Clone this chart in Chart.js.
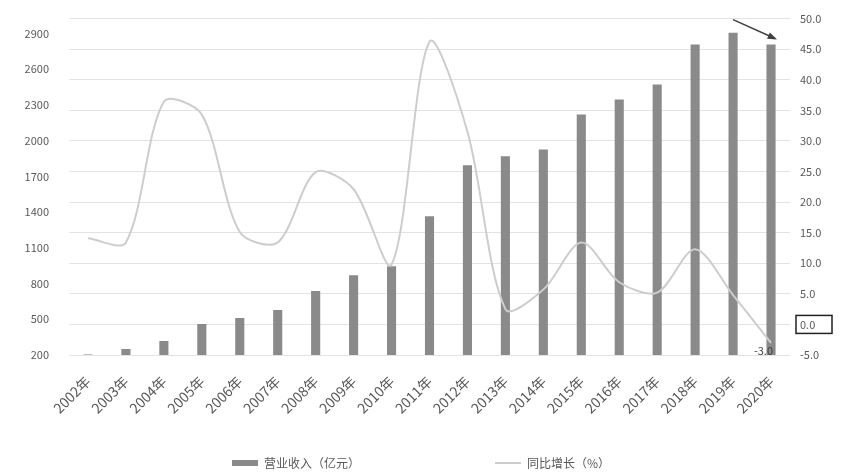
<!DOCTYPE html>
<html>
<head>
<meta charset="utf-8">
<script src="https://cdn.jsdelivr.net/npm/chart.js@4.4.0/dist/chart.umd.min.js"></script>
<style>
  body { margin: 0; background: #fff; }
  #wrap { width: 842px; height: 472px; position: relative; }
</style>
</head>
<body>
<div id="wrap"><canvas id="c"></canvas></div>
<script>
// 数据
const years = ["2002年","2003年","2004年","2005年","2006年","2007年","2008年","2009年","2010年","2011年",
  "2012年","2013年","2014年","2015年","2016年","2017年","2018年","2019年","2020年"];
const revenue = [205, 250, 317, 460, 510, 577, 737, 871, 946, 1365, 1795, 1869, 1927, 2221, 2347, 2472, 2808, 2908, 2808];
const growth = [14.1, 13.4, 36.4, 34.3, 15.1, 13.4, 24.9, 22.1, 9.8, 46.2, 31.5, 2.5, 5.7, 13.4, 6.9, 5.2, 12.3, 4.8, -3.0];
const leftTicks = [200, 500, 800, 1100, 1400, 1700, 2000, 2300, 2600, 2900];
const rightTicks = [-5, 0, 5, 10, 15, 20, 25, 30, 35, 40, 45, 50];

const textColor = "#595959";
const fontFamily = "'Noto Sans CJK SC', 'Noto Sans', sans-serif";

// 标注：右轴 0.0 方框、末点数值、箭头
const notes = {
  id: "notes",
  afterDraw(chart) {
    const ctx = chart.ctx;
    const x = chart.scales.x, yL = chart.scales.yL, yR = chart.scales.yR;
    ctx.save();
    // 0.0 方框
    const y0 = yR.getPixelForValue(0);
    ctx.strokeStyle = "#222";
    ctx.lineWidth = 1.5;
    ctx.strokeRect(yR.left + 6, y0 - 9, 36, 18);
    // 最后一点的数值
    const last = growth.length - 1;
    const px = x.getPixelForValue(last), py = yR.getPixelForValue(growth[last]);
    ctx.fillStyle = "#404040";
    ctx.font = "11px " + fontFamily;
    ctx.textAlign = "right";
    ctx.textBaseline = "middle";
    ctx.fillText(growth[last].toFixed(1), px + 2, py + 8);
    // 箭头
    const x1 = x.getPixelForValue(last - 1), y1 = yR.getPixelForValue(50) + 1;
    const x2 = px + 4, y2 = yL.getPixelForValue(revenue[last]) - 6;
    ctx.strokeStyle = "#404040";
    ctx.fillStyle = "#404040";
    ctx.lineWidth = 1.5;
    ctx.beginPath(); ctx.moveTo(x1, y1); ctx.lineTo(x2, y2); ctx.stroke();
    const a = Math.atan2(y2 - y1, x2 - x1);
    ctx.beginPath();
    ctx.moveTo(x2 + 2, y2 + 1);
    ctx.lineTo(x2 - 8 * Math.cos(a - 0.45), y2 - 8 * Math.sin(a - 0.45));
    ctx.lineTo(x2 - 8 * Math.cos(a + 0.45), y2 - 8 * Math.sin(a + 0.45));
    ctx.closePath(); ctx.fill();
    ctx.restore();
  }
};

new Chart(document.getElementById("c"), {
  data: {
    labels: years,
    datasets: [
      {
        type: "line",
        label: "同比增长（%）",
        data: growth,
        yAxisID: "yR",
        borderColor: "#cdcdcd",
        backgroundColor: "#cdcdcd",
        borderWidth: 2,
        pointRadius: 0,
        pointStyle: "line",
        tension: 0.3,
        order: 1
      },
      {
        type: "bar",
        label: "营业收入（亿元）",
        data: revenue,
        yAxisID: "yL",
        backgroundColor: "#8a8a8a",
        pointStyle: "rect",
        barPercentage: 0.24,
        categoryPercentage: 1,
        order: 2
      }
    ]
  },
  options: {
    responsive: true,
    maintainAspectRatio: false,
    animation: false,
    layout: { padding: { top: 17, bottom: -7 } },
    plugins: {
      legend: {
        position: "bottom",
        reverse: true,
        labels: {
          usePointStyle: true,
          pointStyleWidth: 26,
          boxHeight: 6,
          padding: 9,
          color: textColor,
          font: { size: 12, family: fontFamily },
          // 两个图例项之间留出较大间距
          generateLabels: chart => {
            const items = Chart.defaults.plugins.legend.labels.generateLabels(chart);
            items.forEach(it => { if (it.datasetIndex === 1) it.text += "\u3000".repeat(11); });
            return items;
          }
        }
      },
      tooltip: { enabled: false }
    },
    scales: {
      x: {
        grid: { display: false },
        border: { display: false },
        afterFit: s => { s.height = 93; },
        ticks: {
          minRotation: 45, maxRotation: 45,
          padding: 10,
          color: textColor,
          font: { size: 14, family: fontFamily }
        }
      },
      yL: {
        position: "left",
        min: 200, max: 3026,
        afterBuildTicks: s => { s.ticks = leftTicks.map(v => ({ value: v })); },
        afterFit: s => { s.width = 69; },
        grid: { display: false },
        border: { display: false },
        ticks: {
          color: textColor, padding: 12,
          font: { size: 11, family: fontFamily },
          callback: v => String(v)
        }
      },
      yR: {
        position: "right",
        min: -5, max: 50,
        afterBuildTicks: s => { s.ticks = rightTicks.map(v => ({ value: v })); },
        afterFit: s => { s.width = 52; },
        grid: { color: "#e3e3e3", drawTicks: false },
        border: { display: false },
        ticks: {
          color: textColor, padding: 10,
          font: { size: 11, family: fontFamily },
          callback: v => v.toFixed(1)
        }
      }
    }
  },
  plugins: [notes]
});
</script>
</body>
</html>
